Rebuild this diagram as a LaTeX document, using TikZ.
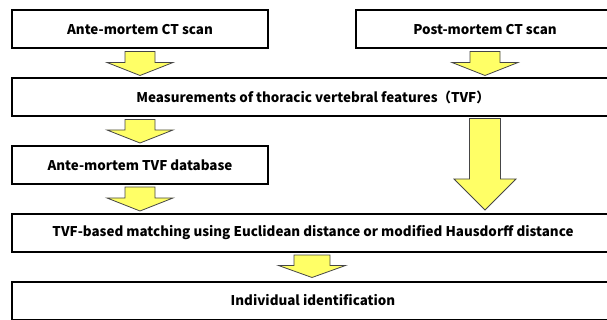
\documentclass[tikz,border=0pt]{standalone}
\usepackage{fontspec}
\setmainfont{Noto Sans CJK JP}
\usetikzlibrary{calc}
\definecolor{arrowyellow}{RGB}{255,255,102}
\definecolor{arrowedge}{RGB}{70,70,70}
\tikzset{
  box/.style={draw=black, line width=2pt, fill=white, minimum height=38pt,
    inner sep=0pt, font=\fontsize{13.4}{15}\selectfont\bfseries},
  barrow/.style={draw=arrowedge, line width=0.8pt, fill=arrowyellow, line join=miter},
}
% #1 from node, #2 to node, #3 x, #4 shaft half, #5 head half, #6 head length, #7 gap top, #8 gap bottom
\newcommand\blockarrow[8]{%
  \path let \p1=(#1.south), \p2=(#2.north) in
    [barrow] ({(#3-#4)*1pt},{\y1-#7pt}) -- ({(#3+#4)*1pt},{\y1-#7pt})
    -- ({(#3+#4)*1pt},{\y2+#8pt+#6pt}) -- ({(#3+#5)*1pt},{\y2+#8pt+#6pt})
    -- ({#3*1pt},{\y2+#8pt}) -- ({(#3-#5)*1pt},{\y2+#8pt+#6pt})
    -- ({(#3-#4)*1pt},{\y2+#8pt+#6pt}) -- cycle;
}
\begin{document}
\begin{tikzpicture}[x=1pt,y=-1pt]
\useasboundingbox (0,0) rectangle (607,320);
\clip (0,0) rectangle (607,320);
\node[box, minimum width=256pt] (ante) at (140,29.5) {Ante-mortem CT scan};
\node[box, minimum width=258pt] (post) at (485,29.5) {Post-mortem CT scan};
\node[box, minimum width=602pt] (meas) at (313,97.5) {Measurements of thoracic vertebral features（TVF）};
\node[box, minimum width=256pt] (db) at (140,165) {Ante-mortem TVF database};
\node[box, minimum width=602pt] (match) at (313,233) {TVF-based matching using Euclidean distance or modified Hausdorff distance};
\node[box, minimum width=602pt] (ident) at (313,300.5) {Individual identification};
\blockarrow{ante}{meas}{140}{15}{33}{13}{2}{2}
\blockarrow{post}{meas}{485}{15}{33}{13}{2}{2}
\blockarrow{meas}{db}{140}{15}{33}{13}{2}{2}
\blockarrow{meas}{match}{485}{15.5}{31}{31}{1}{3}
\blockarrow{db}{match}{140}{15}{33}{13}{2}{2}
\blockarrow{match}{ident}{312}{18}{33.5}{12}{2}{3}
\end{tikzpicture}
\end{document}
